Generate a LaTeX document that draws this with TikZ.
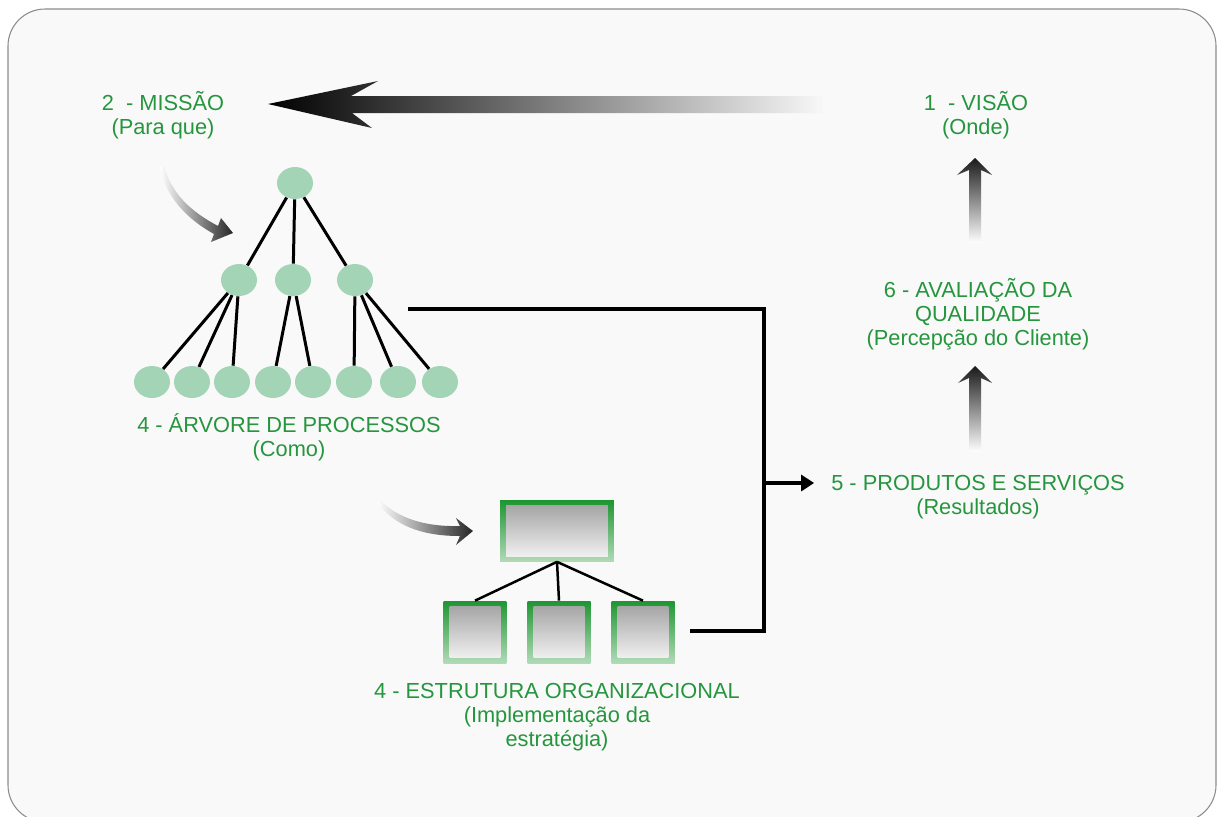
\documentclass[tikz,border=0pt]{standalone}
\usepackage{fontspec}
\setmainfont{Liberation Sans}
\usetikzlibrary{shapes.geometric,arrows.meta,calc}
\definecolor{txtgreen}{RGB}{38,150,62}
\definecolor{leafgreen}{RGB}{163,212,182}
\definecolor{boxgreen}{RGB}{30,150,50}
\definecolor{paper}{RGB}{249,249,249}
\tikzset{
  lbl/.style={text=txtgreen, align=center, font=\fontsize{12.4}{13.8}\selectfont},
  leaf/.style={ellipse, fill=leafgreen, inner sep=0pt, minimum width=0.72cm, minimum height=0.64cm},
  twig/.style={line width=0.06cm, black},
  orgbox/.style={rectangle, inner sep=0pt, top color=boxgreen, bottom color=boxgreen!35,
    path picture={\shade[top color=black!38, bottom color=black!3]
      ($(path picture bounding box.south west)+(3.5pt,3pt)$) rectangle
      ($(path picture bounding box.north east)+(-3.5pt,-3pt)$);}},
  bar/.style={line width=0.08cm, black}
}
\begin{document}
\begin{tikzpicture}[x=0.02cm,y=-0.02cm]
\useasboundingbox (0,0) rectangle (1217,816);
\begin{scope}
  \clip (0,0) rectangle (1217,816);
  \fill[white] (0,0) rectangle (1217,816);
  \draw[black!45, fill=paper, rounded corners=0.74cm, line width=0.6pt] (8,9) rectangle (1216,822);
\end{scope}

\node[lbl] (missao) at (163,115) {2\ \ - MISSÃO\\(Para que)};
\node[lbl] (visao) at (976,115) {1\ \ - VISÃO\\(Onde)};
\node[lbl] (avaliacao) at (978,314) {6 - AVALIAÇÃO DA\\QUALIDADE\\(Percepção do Cliente)};
\node[lbl] (produtos) at (978,497) {5 - PRODUTOS E SERVIÇOS\\(Resultados)};
\node[lbl] (arvore) at (289,437) {4 - ÁRVORE DE PROCESSOS\\(Como)};
\node[lbl] (estrutura) at (557,717) {4 - ESTRUTURA ORGANIZACIONAL\\(Implementação da\\estratégia)};

\shade[left color=black, right color=black!3] (268,104) -- (378,81) -- (351,96) -- (822,96)
  -- (822,113) -- (352,113) -- (372,128) -- cycle;
\shade[top color=black!90, bottom color=white] (975,158) -- (992,175) -- (981,170) -- (981,243)
  -- (969,243) -- (969,170) -- (957,175) -- cycle;
\shade[top color=black!90, bottom color=white] (975,366) -- (992,383) -- (981,378) -- (981,452)
  -- (969,452) -- (969,378) -- (958,383) -- cycle;
\shade[left color=white, right color=black!85] (160,167) .. controls (165,195) and (185,218) .. (214,234)
  -- (211,242) -- (233,233) -- (221,218) -- (218,226) .. controls (192,212) and (172,195) .. (164,166) -- cycle;
\shade[left color=white, right color=black!85] (377,503) .. controls (395,525) and (420,536) .. (460,536)
  -- (456,545) -- (473,531) -- (456,518) -- (460,526) .. controls (425,527) and (398,518) .. (381,501) -- cycle;

\node[leaf] (t) at (295,183) {};
\foreach \n/\x in {1/239,2/293,3/355}
  \node[leaf] (m\n) at (\x,280) {};
\foreach \n/\x in {1/152,2/192,3/232,4/273,5/313,6/354,7/398,8/440}
  \node[leaf] (b\n) at (\x,382) {};
\foreach \a/\b in {t/m1,t/m2,t/m3,m1/b1,m1/b2,m1/b3,m2/b4,m2/b5,m3/b6,m3/b7,m3/b8}
  \draw[twig] (\a) -- (\b);

\node[orgbox, minimum width=2.28cm, minimum height=1.22cm] (o) at (557,531) {};
\foreach \n/\x in {1/475,2/559,3/643}
  \node[orgbox, minimum width=1.26cm, minimum height=1.24cm] (o\n) at (\x,632) {};
\foreach \n in {1,2,3}
  \draw[twig, line width=0.05cm] (o.south) -- (o\n.north);

\coordinate (treeout) at (408,309);
\coordinate (orgout) at (690,631);
\coordinate (topturn) at (764,309);
\coordinate (botturn) at (764,631);
\coordinate (joint) at (764,483);
\draw[bar] (treeout) -- (topturn) -- (botturn) -- (orgout);
\draw[bar, -{Triangle[length=0.26cm,width=0.32cm]}, shorten >=0.22cm] (joint) -- (joint -| produtos.west);
\end{tikzpicture}
\end{document}
